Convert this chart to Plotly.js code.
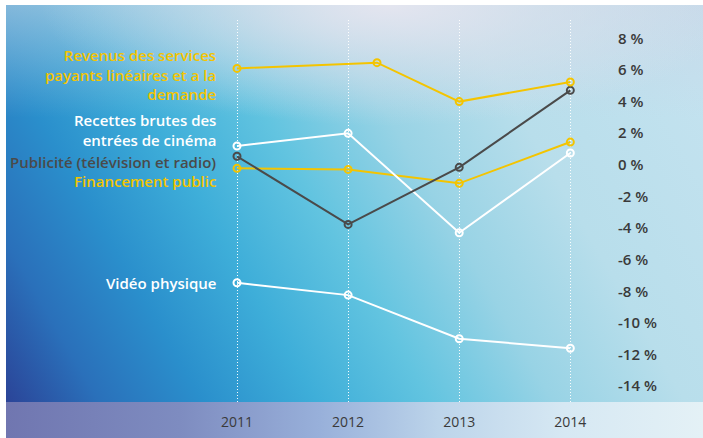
<!DOCTYPE html>
<html>
<head>
<meta charset="utf-8">
<script src="https://cdn.plot.ly/plotly-3.0.1.min.js"></script>
<style>
  html, body { margin: 0; padding: 0; background: #ffffff; }
  #wrap { position: relative; width: 703px; height: 438px; overflow: hidden; }
  #bg {
    position: absolute; left: 6px; top: 5px; width: 697px; height: 433px;
    background:
      radial-gradient(ellipse 50% 28% at 55% 0%, rgba(230,230,240,0.95) 0%, rgba(222,228,238,0.55) 45%, rgba(222,228,238,0) 100%),
      linear-gradient(to bottom, rgba(200,210,228,0.55) 0%, rgba(200,210,228,0) 26%),
      linear-gradient(60deg, #2b3a90 0%, #2a70ba 12%, #2a8fcc 23%, #3eaed9 35%, #62c4e0 47%, #98d3e5 60%, #b8deeb 74%, #c6e3f0 100%);
  }
  #band {
    position: absolute; left: 6px; top: 402px; width: 697px; height: 36px;
    background: linear-gradient(to right, #7076b0 0%, #7e8cc0 25%, #98b0da 45%, #bcd4ea 62%, #d6e8f3 80%, #e4f1f6 100%);
  }
  #chart { position: absolute; left: 0; top: 0; width: 703px; height: 438px; }
</style>
</head>
<body>
<div id="wrap">
  <div id="bg"></div>
  <div id="band"></div>
  <div id="chart"></div>
</div>
<script>
// Annual change by revenue source, in %
const years = [2011, 2012, 2013, 2014];
const yearsRevenus = [2011, 2012.26, 2013, 2014];

const revenusServices = [6.1, 6.46, 4.0, 5.24];
const recettesCinema = [1.19, 1.99, -4.3, 0.75];
const publicite = [0.54, -3.77, -0.16, 4.71];
const financementPublic = [-0.22, -0.29, -1.17, 1.44];
const videoPhysique = [-7.46, -8.24, -11.0, -11.6];

const seriesNames = [
  'Revenus des services<br>payants linéaires et a la<br>demande',
  'Recettes brutes des<br>entrées de cinéma',
  'Publicité (télévision et radio)',
  'Financement public',
  'Vidéo physique'
];
const labelY = [5.74, 2.22, 0.16, -1.04, -7.5];

const yTickVals = [8, 6, 4, 2, 0, -2, -4, -6, -8, -10, -12, -14];
const yTickText = yTickVals.map(v => v + ' %');
const xTickVals = years;
const xTickText = ['2011', '2012', '2013', '2014'];

const YELLOW = '#f4c400';
const WHITE = '#ffffff';
const GREY = '#4a4a4a';
const FONT = '"Open Sans", sans-serif';

function series(x, y, color) {
  return {
    x: x, y: y, type: 'scatter', mode: 'lines+markers',
    line: { color: color, width: 2 },
    marker: { symbol: 'circle-open', size: 7, color: color, line: { width: 2, color: color } },
    hoverinfo: 'skip', showlegend: false
  };
}

const traces = [
  series(years, videoPhysique, WHITE),
  series(years, financementPublic, YELLOW),
  series(years, recettesCinema, WHITE),
  series(years, publicite, GREY),
  series(yearsRevenus, revenusServices, YELLOW)
];

const labelColors = [YELLOW, WHITE, GREY, YELLOW, WHITE];
const annotations = seriesNames.map((t, i) => ({
  text: t, x: 2011, y: labelY[i], xref: 'x', yref: 'y',
  xanchor: 'right', yanchor: 'middle', align: 'right', xshift: -19,
  showarrow: false,
  font: { family: FONT, size: 15, color: labelColors[i], weight: 600 }
}));

const layout = {
  width: 703, height: 438,
  margin: { l: 6, r: 98, t: 20, b: 36, pad: 0 },
  paper_bgcolor: 'rgba(0,0,0,0)',
  plot_bgcolor: 'rgba(0,0,0,0)',
  showlegend: false,
  xaxis: {
    range: [2008.921, 2014.312],
    tickvals: xTickVals, ticktext: xTickText,
    showgrid: true, gridcolor: 'rgba(255,255,255,0.95)', gridwidth: 1, griddash: '1px,2px',
    zeroline: false, showline: false, ticks: '',
    ticklabelstandoff: 10,
    tickfont: { family: FONT, size: 14, color: '#3a3a3a' }
  },
  yaxis: {
    range: [-15.0, 9.16],
    side: 'right',
    tickvals: yTickVals, ticktext: yTickText,
    showgrid: false, zeroline: false, showline: false, ticks: '',
    ticklabelstandoff: 12,
    tickfont: { family: FONT, size: 15, color: '#3a3a3a', weight: 600 }
  },
  annotations: annotations
};

Plotly.newPlot('chart', traces, layout, { staticPlot: true, displayModeBar: false });
</script>
</body>
</html>
